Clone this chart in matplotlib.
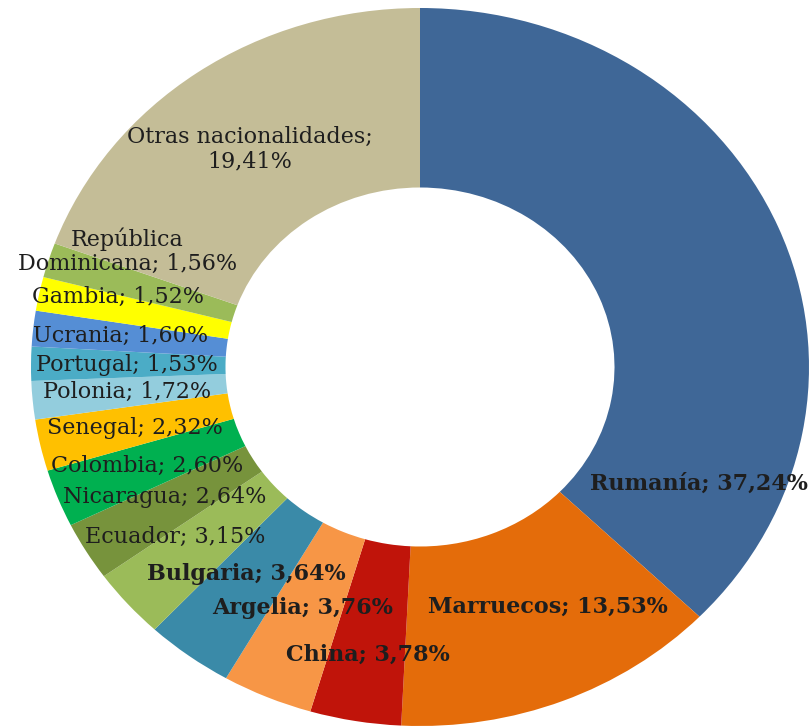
import matplotlib
matplotlib.use('Agg')
import matplotlib.pyplot as plt

# data (clockwise from 12 o'clock)
countries = ['Rumanía', 'Marruecos', 'China', 'Argelia', 'Bulgaria', 'Ecuador',
             'Nicaragua', 'Colombia', 'Senegal', 'Polonia', 'Portugal', 'Ucrania',
             'Gambia', 'República\nDominicana', 'Otras nacionalidades;\n']
shares = [37.24, 13.53, 3.78, 3.76, 3.64, 3.15, 2.64, 2.60, 2.32, 1.72, 1.53,
          1.60, 1.52, 1.56, 19.41]
bold = [True, True, True, True, True, False, False, False, False, False, False,
        False, False, False, False]

colors = ['#3F6797', '#E46C0A', '#C0140A', '#F79646', '#3A8AA8', '#9BBB59',
          '#77933C', '#00B050', '#FFC000', '#93CDDD', '#4BACC6', '#558ED5',
          '#FFFF00', '#9BBB59', '#C4BD97']

# label centres in axes data units
label_pos = [(0.717, -0.326), (0.329, -0.669), (-0.134, -0.802), (-0.301, -0.671),
             (-0.447, -0.577), (-0.630, -0.474), (-0.656, -0.362), (-0.702, -0.276),
             (-0.733, -0.170), (-0.753, -0.070), (-0.753, 0.006), (-0.771, 0.086),
             (-0.776, 0.195), (-0.753, 0.323), (-0.437, 0.607)]

plt.rcParams['font.family'] = ['DejaVu Serif']

fig = plt.figure(figsize=(8.1, 7.26), dpi=100)
ax = fig.add_axes([31 / 810, 0.0, 778 / 810, 718 / 726])
ax.pie(shares, colors=colors, startangle=90, counterclock=False,
       radius=1.0, wedgeprops=dict(width=0.5, linewidth=0))
ax.set_aspect('auto')
ax.set_xlim(-1, 1)
ax.set_ylim(-1, 1)
ax.axis('off')

for name, val, b, (x, y) in zip(countries, shares, bold, label_pos):
    pct = ('%.2f%%' % val).replace('.', ',')
    if name.endswith('\n'):
        txt = name + pct
    else:
        txt = '%s; %s' % (name, pct)
    ax.text(x, y, txt, ha='center', va='center', fontsize=16,
            fontweight='bold' if b else 'normal', color='#1E1E1E',
            linespacing=1.15)

fig.savefig('out.png', dpi=100)
